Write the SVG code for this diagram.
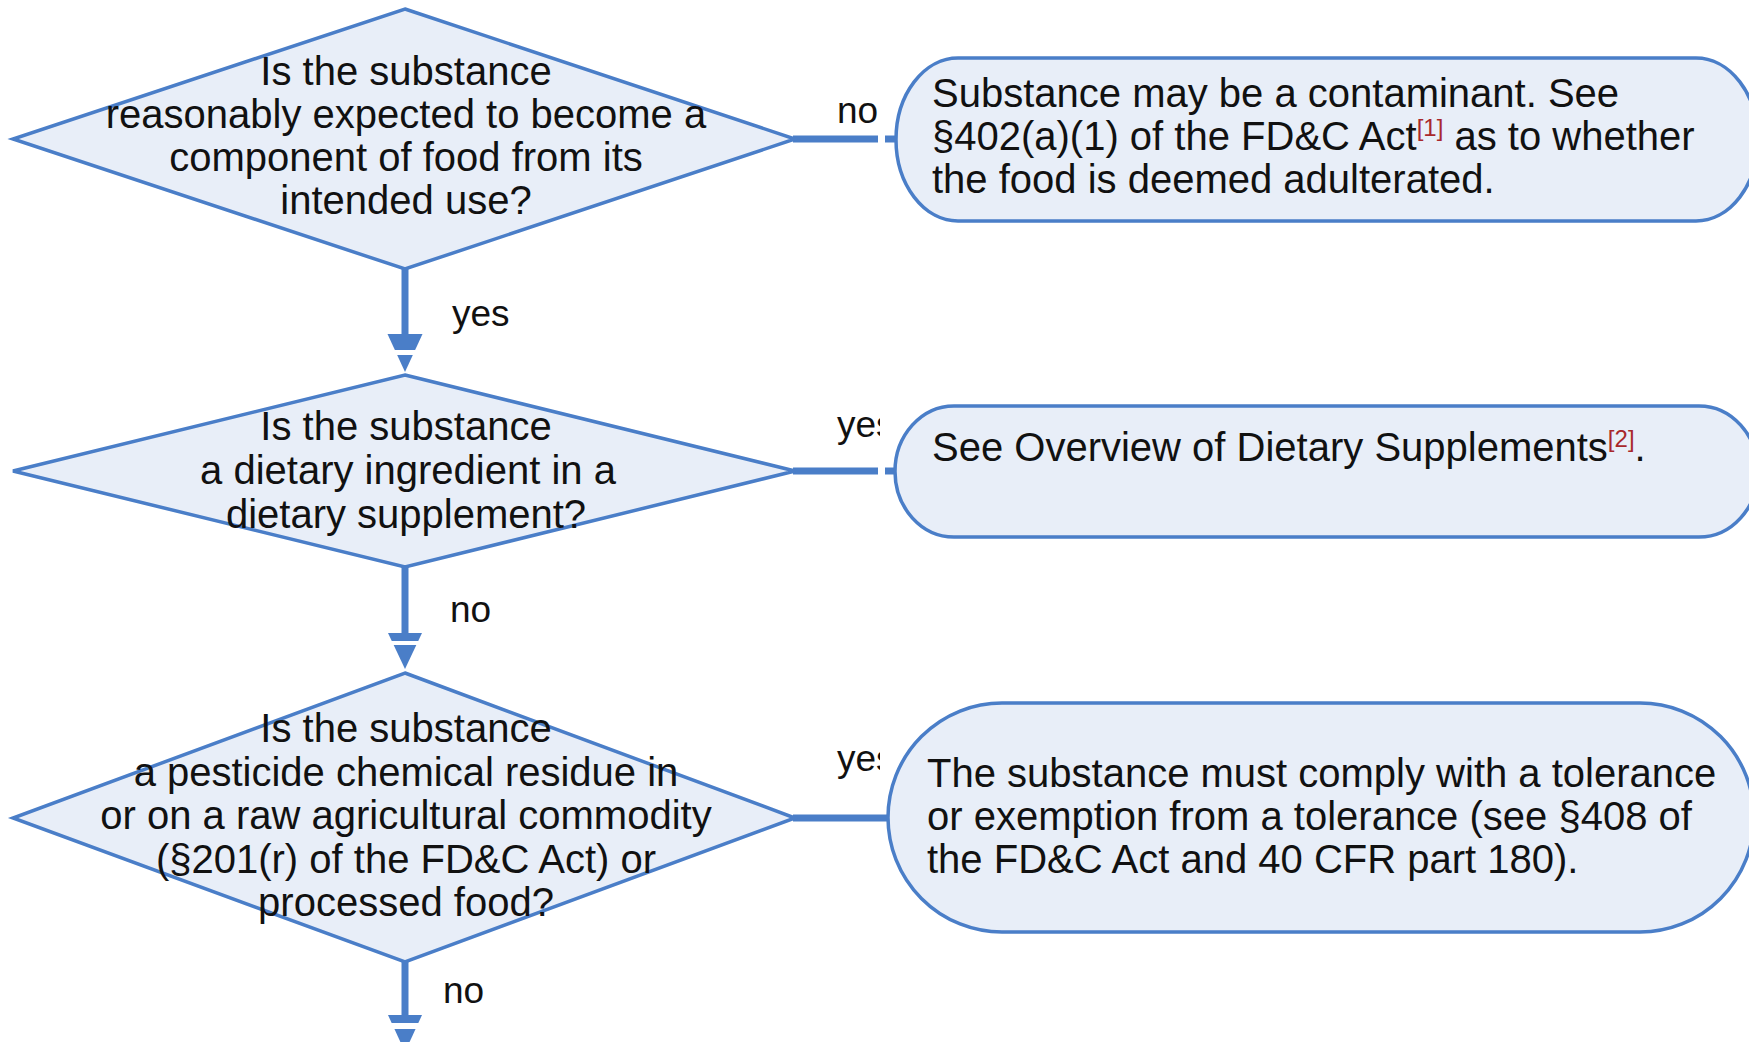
<svg xmlns="http://www.w3.org/2000/svg" width="1749" height="1042" viewBox="0 0 1749 1042">
  <style>
    .shape { fill: #E8EEF8; stroke: #4A7EC8; stroke-width: 3.5; }
    .link { stroke: #4A7EC8; stroke-width: 7; fill: none; }
    .head { fill: #4A7EC8; }
    .gap { fill: #FFFFFF; }
    .txt { font-family: "Liberation Sans", Arial, sans-serif; font-size: 40px; fill: #111111; }
    .mid { text-anchor: middle; }
    .lbl { font-family: "Liberation Sans", Arial, sans-serif; font-size: 37px; fill: #111111; }
    .ref { fill: #A8282C; font-size: 24px; }
  </style>
  <defs>
    <clipPath id="labelClip">
      <rect x="0" y="0" width="880" height="1042"/>
    </clipPath>
  </defs>
  <rect width="1749" height="1042" fill="#FFFFFF"/>

  <!-- connectors -->
  <g id="connectors">
    <!-- q1 -> q2 (yes) -->
    <line class="link" x1="405" y1="269" x2="405" y2="336"/>
    <polygon class="head" points="387.5,334 422.5,334 405,372"/>
    <rect class="gap" x="380" y="350" width="50" height="5"/>
    <!-- q2 -> q3 (no) -->
    <line class="link" x1="405" y1="567" x2="405" y2="635"/>
    <polygon class="head" points="388,633 422,633 405,669"/>
    <rect class="gap" x="380" y="641" width="50" height="4"/>
    <!-- q3 -> next (no) -->
    <line class="link" x1="405" y1="962" x2="405" y2="1017"/>
    <polygon class="head" points="388,1015 422,1015 405,1052"/>
    <rect class="gap" x="380" y="1023" width="50" height="6"/>
    <!-- q1 -> contaminant (no) -->
    <line class="link" x1="793" y1="139" x2="878" y2="139"/>
    <line class="link" x1="885" y1="139" x2="897" y2="139"/>
    <!-- q2 -> dietary supplements (yes) -->
    <line class="link" x1="793" y1="471" x2="878" y2="471"/>
    <line class="link" x1="885" y1="471" x2="896" y2="471"/>
    <!-- q3 -> tolerance (yes) -->
    <line class="link" x1="793" y1="818" x2="889" y2="818"/>

    <g clip-path="url(#labelClip)">
      <text class="lbl" x="452" y="326">yes</text>
      <text class="lbl" x="450" y="622">no</text>
      <text class="lbl" x="443" y="1003">no</text>
      <text class="lbl" x="837" y="123">no</text>
      <text class="lbl" x="837" y="437">yes</text>
      <text class="lbl" x="837" y="771">yes</text>
    </g>
  </g>

  <!-- decision: component of food -->
  <g id="q-component">
    <polygon class="shape" points="405,9 795,139 405,269 13,139"/>
    <text class="txt mid" x="406" y="85">Is the substance</text>
    <text class="txt mid" x="406" y="128">reasonably expected to become a</text>
    <text class="txt mid" x="406" y="171">component of food from its</text>
    <text class="txt mid" x="406" y="214">intended use?</text>
  </g>

  <!-- outcome: contaminant -->
  <g id="r-contaminant">
    <rect class="shape" x="896" y="58" width="862" height="163" rx="62" ry="81.5"/>
    <text class="txt" x="932" y="107">Substance may be a contaminant. See</text>
    <text class="txt" x="932" y="150">§402(a)(1) of the FD&amp;C Act<tspan class="ref" dy="-14">[1]</tspan><tspan dy="14"> as to whether</tspan></text>
    <text class="txt" x="932" y="193">the food is deemed adulterated.</text>
  </g>

  <!-- decision: dietary ingredient -->
  <g id="q-dietary">
    <polygon class="shape" points="405,375 795,471 405,567 13,471"/>
    <text class="txt mid" x="406" y="440">Is the substance</text>
    <text class="txt mid" x="408" y="484">a dietary ingredient in a</text>
    <text class="txt mid" x="406" y="528">dietary supplement?</text>
  </g>

  <!-- outcome: dietary supplements -->
  <g id="r-supplements">
    <rect class="shape" x="895" y="406" width="863" height="131" rx="59" ry="65.5"/>
    <text class="txt" x="932" y="461">See Overview of Dietary Supplements<tspan class="ref" dy="-14">[2]</tspan><tspan dy="14">.</tspan></text>
  </g>

  <!-- decision: pesticide residue -->
  <g id="q-pesticide">
    <polygon class="shape" points="405,673 795,818 405,962 13,818"/>
    <text class="txt mid" x="406" y="742">Is the substance</text>
    <text class="txt mid" x="406" y="786">a pesticide chemical residue in</text>
    <text class="txt mid" x="406" y="829">or on a raw agricultural commodity</text>
    <text class="txt mid" x="406" y="873">(§201(r) of the FD&amp;C Act) or</text>
    <text class="txt mid" x="406" y="916">processed food?</text>
  </g>

  <!-- outcome: tolerance -->
  <g id="r-tolerance">
    <rect class="shape" x="888" y="703" width="866" height="229" rx="114" ry="114.5"/>
    <text class="txt" x="927" y="787">The substance must comply with a tolerance</text>
    <text class="txt" x="927" y="830">or exemption from a tolerance (see §408 of</text>
    <text class="txt" x="927" y="873">the FD&amp;C Act and 40 CFR part 180).</text>
  </g>
</svg>
